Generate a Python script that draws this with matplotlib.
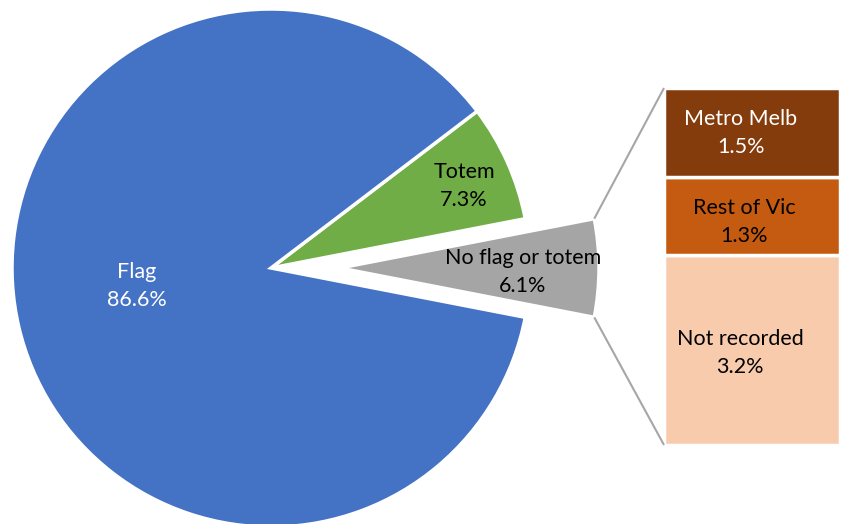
import matplotlib.pyplot as plt
import numpy as np

# Datos del pastel principal (en %)
pie_labels = ['No flag or totem', 'Totem', 'Flag']
pie_values = [6.1, 7.3, 86.6]
pie_colors = ['#A5A5A5', '#70AD47', '#4472C4']

# Desglose de "No flag or totem" (barra apilada)
bar_labels = ['Not recorded', 'Rest of Vic', 'Metro Melb']
bar_values = [3.2, 1.3, 1.5]
bar_colors = ['#F8CBAD', '#C55A11', '#843C0C']

plt.rcParams['font.family'] = ['Lato', 'DejaVu Sans']

W, H = 845, 524
fig = plt.figure(figsize=(W / 100, H / 100), dpi=100)

# Barra apilada a la derecha (se crea primero para que el texto quede encima)
bx0, by0, bw, bh = 664, H - 445, 176, 357
ax2 = fig.add_axes([bx0 / W, by0 / H, bw / W, bh / H])
bottoms = np.concatenate([[0], np.cumsum(bar_values)[:-1]])
ax2.bar([0.5] * 3, bar_values, width=1, bottom=bottoms, color=bar_colors,
        edgecolor='white', linewidth=2.5)
ax2.set_xlim(0, 1)
ax2.set_ylim(0, sum(bar_values))
ax2.axis('off')

ax = fig.add_axes([0, 0, 1, 1])
ax.patch.set_alpha(0)

# Pastel: la porcion gris centrada en 0 grados y separada
cx, cy, r = 271, H - 268, 259
gray_angle = 360 * pie_values[0] / sum(pie_values)
expl = 69  # desplazamiento en pixeles
wedges, _ = ax.pie(pie_values, colors=pie_colors, startangle=-gray_angle / 2,
                   counterclock=True, center=(cx, cy), radius=r,
                   explode=[expl, 0, 0], frame=True,
                   wedgeprops=dict(edgecolor='white', linewidth=2.5))
ax.set_xlim(0, W)
ax.set_ylim(0, H)
ax.set_aspect('equal')
ax.axis('off')

# Lineas de conexion entre la porcion gris y la barra
gx = cx + expl
a = np.radians(gray_angle / 2)
for sgn, yb in [(1, by0 + bh), (-1, by0)]:
    ax.plot([gx + r * np.cos(a), bx0], [cy + sgn * r * np.sin(a), yb],
            color='#A6A6A6', lw=1.5, solid_capstyle='butt')

fs = 15.5
ls = 1.55
# Etiquetas del pastel
ax.text(137, H - 286, 'Flag\n86.6%', color='white', fontsize=fs,
        ha='center', va='center', linespacing=ls)
ax.text(464, H - 186, 'Totem\n7.3%', color='black', fontsize=fs,
        ha='center', va='center', linespacing=ls)
ax.text(523, H - 272, 'No flag or totem\n6.1%', color='black', fontsize=fs,
        ha='center', va='center', linespacing=ls)

# Etiquetas de la barra
ax.text(741, H - 133, 'Metro Melb\n1.5%', color='white', fontsize=fs,
        ha='center', va='center', linespacing=ls)
ax.text(744, H - 222, 'Rest of Vic\n1.3%', color='black', fontsize=fs,
        ha='center', va='center', linespacing=ls)
ax.text(740, H - 353, 'Not recorded\n3.2%', color='black', fontsize=fs,
        ha='center', va='center', linespacing=ls)

plt.savefig('out.png', dpi=100)
